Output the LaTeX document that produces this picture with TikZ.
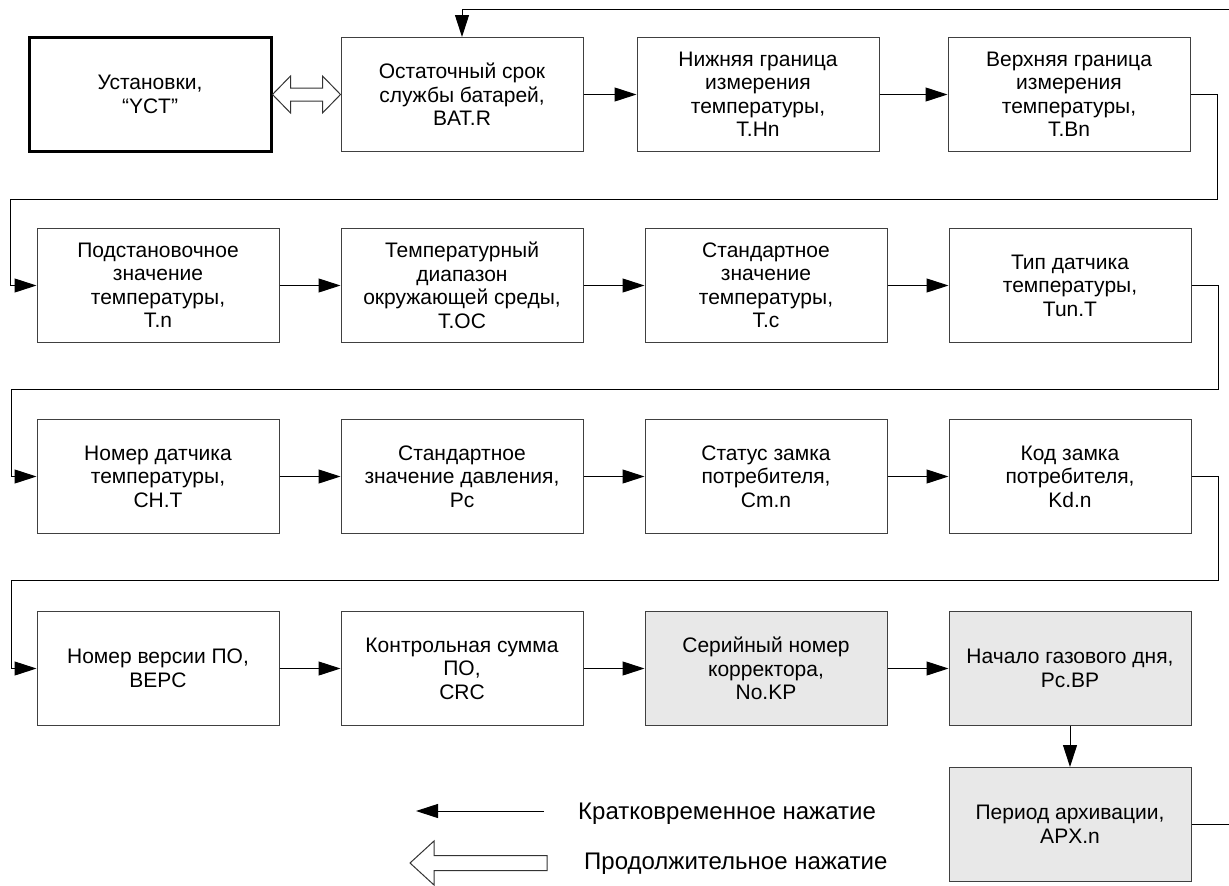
\documentclass[tikz,border=0pt]{standalone}
\usepackage{fontspec}
\setmainfont{Liberation Sans}
\usetikzlibrary{positioning, arrows.meta}

\begin{document}
\begin{tikzpicture}[
  x=1pt, y=1pt,
  param/.style={rectangle, draw=black!75, line width=1pt, fill=white, text=black, minimum width=242pt, minimum height=114pt, align=center, font=\fontsize{21}{23.5}\selectfont, inner sep=2pt},
  setup/.style={param, draw=black, line width=3pt},
  serv/.style={param, fill=black!9},
  flow/.style={draw=black, line width=1pt, -{Triangle[length=22pt,width=14pt]}},
  back/.style={draw=black, line width=1pt},
  hollow/.style={draw=black!80, line width=1pt, fill=white},
  legend/.style={text=black, font=\fontsize{24}{26}\selectfont, anchor=west, inner sep=0pt},
  node distance=61pt,
]
\useasboundingbox (0,0) rectangle (1229,-886);

%%% Nodes
\node[param] (batr) at (462,-94.5) {Остаточный срок\\службы батарей,\\BAT.R};
\node[setup] (ust) [left=68pt of batr] {Установки,\\“YCT”};
\node[param] (tlow) [right=53pt of batr] {Нижняя граница\\измерения\\температуры,\\T.Hn};
\node[param] (tup) [right=68pt of tlow] {Верхняя граница\\измерения\\температуры,\\T.Bn};

\node[param] (trange) [below=76pt of batr] {Температурный\\диапазон\\окружающей среды,\\T.OC};
\node[param] (tsub) [left=of trange] {Подстановочное\\значение\\температуры,\\T.n};
\node[param] (tstd) [right=of trange] {Стандартное\\значение\\температуры,\\T.c};
\node[param] (ttype) [right=of tstd] {Тип датчика\\температуры,\\Tun.T};

\node[param] (pstd) [below=76pt of trange] {Стандартное\\значение давления,\\Pc};
\node[param] (tnum) [left=of pstd] {Номер датчика\\температуры,\\CH.T};
\node[param] (lockst) [right=of pstd] {Статус замка\\потребителя,\\Cm.n};
\node[param] (lockcd) [right=of lockst] {Код замка\\потребителя,\\Kd.n};

\node[param] (crc) [below=77pt of pstd] {Контрольная сумма\\ПО,\\CRC};
\node[param] (vers) [left=of crc] {Номер версии ПО,\\BEPC};
\node[serv] (serial) [right=of crc] {Серийный номер\\корректора,\\No.KP};
\node[serv] (gasday) [right=of serial] {Начало газового дня,\\Pc.BP};
\node[serv] (archiv) [below=41pt of gasday] {Период архивации,\\APX.n};

%%% Connectors
\draw[hollow] (ust.east) -- ++(18,18.5) -- ++(0,-12) -- ++(32,0) -- ++(0,12) -- ++(18,-18.5)
  -- ++(-18,-18.5) -- ++(0,12) -- ++(-32,0) -- ++(0,-12) -- cycle;
\draw[flow] (batr.east) -- (tlow.west);
\draw[flow] (tlow.east) -- (tup.west);
\draw[flow] (tup.east) -- ++(27,0) |- ++(-1207,-104.5) |- (tsub.west);
\draw[flow] (tsub.east) -- (trange.west);
\draw[flow] (trange.east) -- (tstd.west);
\draw[flow] (tstd.east) -- (ttype.west);
\draw[flow] (ttype.east) -- ++(27,0) |- ++(-1207,-104) |- (tnum.west);
\draw[flow] (tnum.east) -- (pstd.west);
\draw[flow] (pstd.east) -- (lockst.west);
\draw[flow] (lockst.east) -- (lockcd.west);
\draw[flow] (lockcd.east) -- ++(27,0) |- ++(-1207,-104) |- (vers.west);
\draw[flow] (vers.east) -- (crc.west);
\draw[flow] (crc.east) -- (serial.west);
\draw[flow] (serial.east) -- (gasday.west);
\draw[flow] (gasday.south) -- (archiv.north);
\draw[back] (archiv.east) -- ++(41,0);
\coordinate (loopin) at (1229,-9);
\draw[flow] (loopin) -| (batr.north);

%%% Legend
\coordinate (shortend) at (544,-811);
\draw[flow] (shortend) -- ++(-128,0);
\node[legend] (shortlbl) at (578,-814) {Кратковременное нажатие};
\draw[hollow] (547,-855.5) -- ++(-113,0) -- ++(0,14.5) -- ++(-24,-22) -- ++(24,-22) -- ++(0,14.5) -- ++(113,0) -- cycle;
\node[legend] (longlbl) at (584,-864) {Продолжительное нажатие};

\end{tikzpicture}
\end{document}
